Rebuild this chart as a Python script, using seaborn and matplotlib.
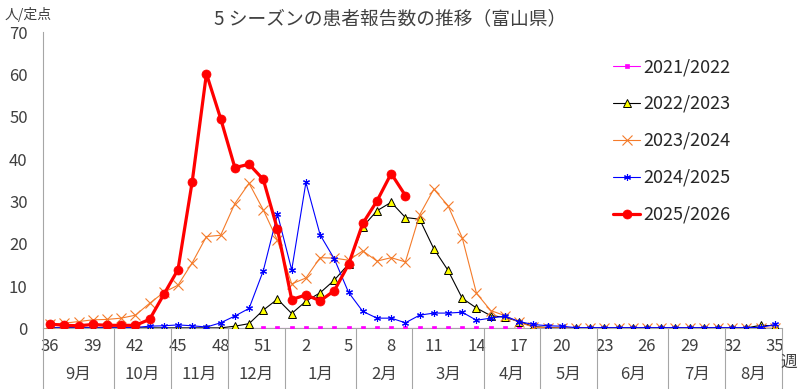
import matplotlib
matplotlib.use("Agg")
import matplotlib.pyplot as plt
import numpy as np
import pandas as pd
import seaborn as sns

# week axis: 36..52 then 1..35
weeks = list(range(36, 53)) + list(range(1, 36))
months = ["9月", "10月", "11月", "12月", "1月", "2月", "3月", "4月", "5月", "6月", "7月", "8月"]
month_weeks = [5, 4, 4, 4, 5, 4, 5, 4, 4, 5, 4, 4]

seasons = ["2021/2022", "2022/2023", "2023/2024", "2024/2025", "2025/2026"]

s2122 = [None] * 14 + [0.0] * 20 + [None] * 18
s2223 = [0.1] * 13 + [0.5, 1.1, 4.3, 6.9, 3.5, 6.4, 8.4, 11.4, 15.2, 24.0, 27.8, 29.8, 26.2,
                      25.8, 18.8, 13.7, 7.1, 4.8, 3.0, 2.6, 1.6, 0.4, 0.2] + [0.1] * 14 + [0.7, 0.6]
s2324 = [1.0, 1.2, 1.6, 2.0, 2.1, 2.4, 3.1, 5.9, 8.5, 10.2, 15.5, 21.7, 22.0, 29.5, 34.3, 28.0,
         20.8, 10.5, 11.9, 16.7, 16.6, 16.1, 18.3, 15.9, 16.7, 15.7, 26.8, 32.9, 29.0, 21.4, 8.3,
         4.2, 3.0, 1.4, 0.3] + [0.1] * 16 + [0.0]
s2425 = [0.1, 0.1, 0.1, 0.1, 0.1, 0.1, 0.2, 0.5, 0.6, 0.8, 0.6, 0.3, 1.3, 2.9, 4.7, 13.6, 27.0,
         13.8, 34.5, 22.1, 16.4, 8.5, 4.0, 2.4, 2.4, 1.3, 3.1, 3.6, 3.6, 3.8, 1.9, 2.4, 2.9, 1.6,
         0.9, 0.6, 0.5] + [0.15] * 13 + [0.2, 0.9]
s2526 = [1.0, 0.7, 0.6, 0.9, 0.7, 0.7, 0.7, 2.1, 8.0, 13.9, 34.7, 60.2, 49.6, 38.0, 38.8, 35.2,
         23.4, 6.8, 7.9, 6.5, 8.9, 15.1, 24.8, 30.1, 36.6, 31.4] + [None] * 26

rows = []
for name, vals in zip(seasons, [s2122, s2223, s2324, s2425, s2526]):
    for i, v in enumerate(vals):
        if v is not None:
            rows.append({"season": name, "idx": i, "value": v})
df = pd.DataFrame(rows)

styles = {
    "2021/2022": dict(color="#FF00FF", marker="s", markersize=3.5, linewidth=0.8,
                      markerfacecolor="#FF00FF", markeredgecolor="#FF00FF", markeredgewidth=0.5),
    "2022/2023": dict(color="black", marker="^", markersize=5.5, linewidth=0.8,
                      markerfacecolor="#FFFF00", markeredgecolor="black", markeredgewidth=0.7),
    "2023/2024": dict(color="#F47B2A", marker="x", markersize=7.5, linewidth=0.8,
                      markerfacecolor="#F47B2A", markeredgecolor="#F47B2A", markeredgewidth=0.8),
    "2024/2025": dict(color="#0000FF", marker=(6, 2, 0), markersize=5, linewidth=0.8,
                      markerfacecolor="#0000FF", markeredgecolor="#0000FF", markeredgewidth=0.8),
    "2025/2026": dict(color="#FF0000", marker="o", markersize=6.5, linewidth=2.3,
                      markerfacecolor="#FF0000", markeredgecolor="#FF0000", markeredgewidth=0.5),
}

sns.set_style("white")
plt.rcParams['font.family'] = ['Noto Sans CJK JP', 'DejaVu Sans']
gray = "#A6A6A6"
txt = "#404040"

W, H = 800, 389
fig = plt.figure(figsize=(8, 3.89), dpi=100)
left, right, top, bottom = 43, 782, 32.3, 328.3
ax = fig.add_axes([left / W, 1 - bottom / H, (right - left) / W, (bottom - top) / H])

for k, name in enumerate(seasons):
    sub = df[df["season"] == name]
    sns.lineplot(data=sub, x="idx", y="value", ax=ax, label=name, zorder=2 + k, **styles[name])

ax.set_xlim(-0.5, 51.5)
ax.set_ylim(0, 70)
ax.set_xlabel("")
ax.set_ylabel("")

for s in ["top", "right"]:
    ax.spines[s].set_visible(False)
for s in ["left", "bottom"]:
    ax.spines[s].set_color(gray)
    ax.spines[s].set_linewidth(0.8)
    ax.spines[s].set_zorder(1.5)

ax.set_yticks(range(0, 71, 10))
ax.tick_params(axis="y", direction="in", length=5, color=gray, width=0.8,
               labelsize=12, labelcolor=txt, pad=11)

ax.set_xticks(range(0, 52, 3))
ax.set_xticklabels([str(w) for w in weeks[::3]])
ax.set_xticks(np.arange(-0.5, 52, 1), minor=True)
ax.tick_params(axis="x", which="major", length=0, labelsize=12, labelcolor=txt, pad=7)
ax.tick_params(axis="x", which="minor", length=19, color=gray, width=0.8, direction="out")

# month band below the week labels
axis_h = bottom - top
bounds = np.cumsum([0] + month_weeks) - 0.5
ax.vlines(bounds, 0, -(H - bottom) / axis_h, transform=ax.get_xaxis_transform(),
          colors=gray, linewidth=0.8, clip_on=False)
for m, b0, n in zip(months, bounds[:-1], month_weeks):
    ax.text(b0 + n / 2, -(374 - bottom) / axis_h, m, transform=ax.get_xaxis_transform(),
            ha="center", va="center", fontsize=12, color=txt)

fig.text(789 / W, 1 - 362 / H, "週", ha="center", va="center", fontsize=12, color=txt)
fig.text(5 / W, 1 - 15 / H, "人/定点", ha="left", va="center", fontsize=10, color=txt)
fig.text(390 / W, 1 - 19 / H, "5 シーズンの患者報告数の推移（富山県）", ha="center", va="center",
         fontsize=13.5, color=txt)

ax.legend(loc="upper left", bbox_to_anchor=(613 / W, 1 - 58 / H), bbox_transform=fig.transFigure,
          frameon=False, fontsize=13, handlelength=1.5, handletextpad=0.2, labelspacing=1.05,
          borderpad=0, borderaxespad=0, labelcolor="#262626")

fig.savefig("out.png", dpi=100)
